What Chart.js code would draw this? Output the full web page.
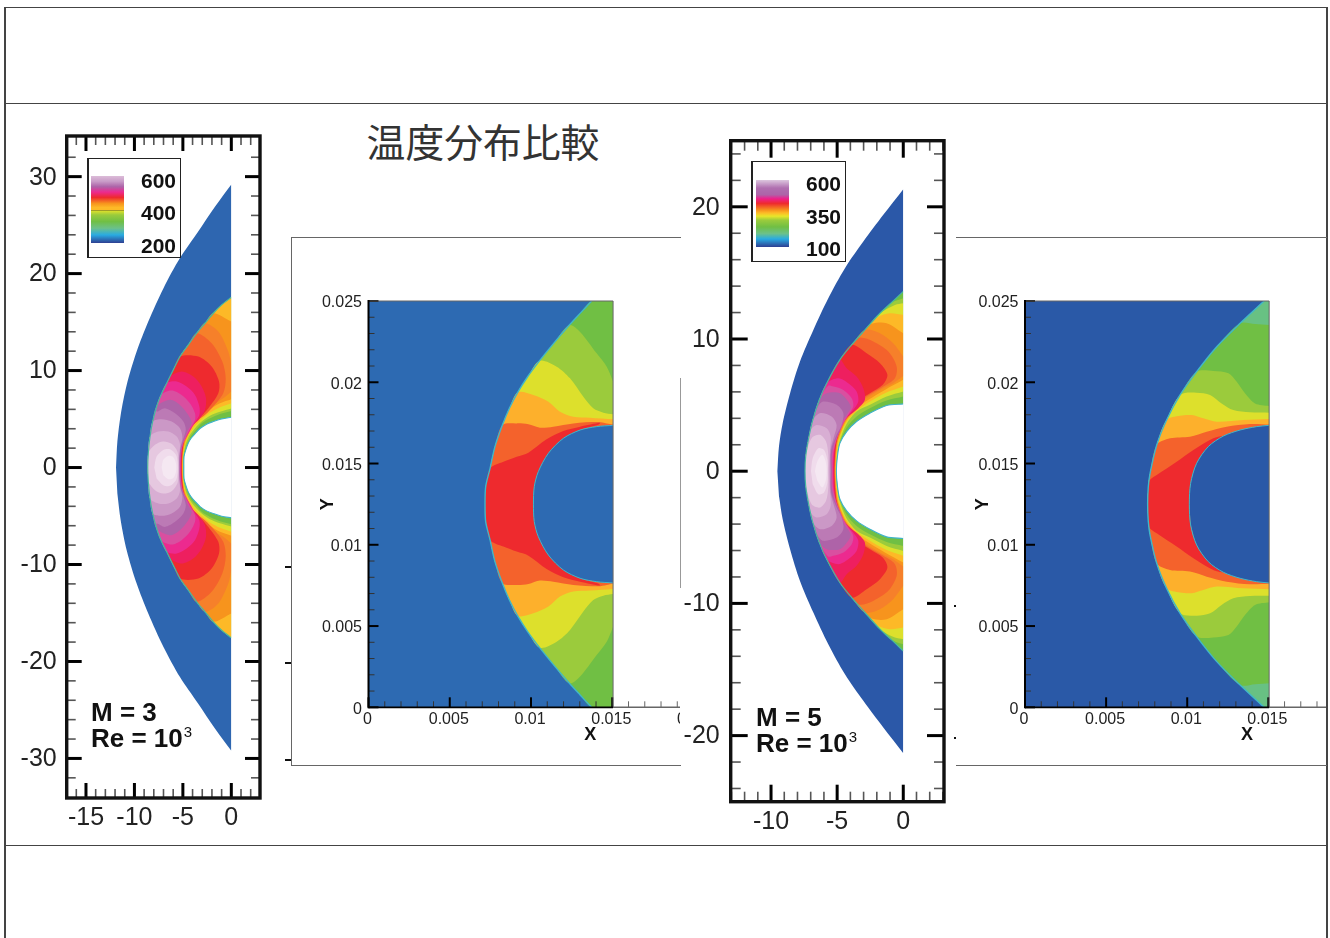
<!DOCTYPE html>
<html lang="ja">
<head>
<meta charset="utf-8">
<title>温度分布比較</title>
<script src="https://cdn.jsdelivr.net/npm/chart.js@4/dist/chart.umd.js"></script>
<style>
  html, body { margin: 0; padding: 0; background: #fff; overflow: hidden; }
  body { position: relative; width: 1330px; height: 938px; font-family: "Liberation Sans", Arial, sans-serif; }
  .rule { position: absolute; background: #444; }
  .clip { position: absolute; overflow: hidden; }
  canvas { position: absolute; }
  .t { position: absolute; transform: translateY(-50%); white-space: nowrap; color: #111; font-weight: bold; }
  .legendBox { position: absolute; box-sizing: border-box; border: 1.5px solid #222; border-left-width: 2px; background: transparent; }
  .bar { position: absolute; }
  #title { position: absolute; left: 483px; top: 140px; transform: translate(-50%, -50%); font: 400 38.8px "Noto Sans CJK JP"; color: #333; white-space: nowrap; }
  sup { font-size: 15px; font-weight: normal; position: relative; top: -10px; margin-left: 1px; line-height: 0; vertical-align: baseline; }
</style>
</head>
<body>
<!-- page frame -->
<div class="rule" style="left:4px;top:7px;width:2px;height:931px"></div>
<div class="rule" style="left:1326px;top:7px;width:2px;height:931px"></div>
<div class="rule" style="left:5px;top:7px;width:1322px;height:1.4px"></div>
<div class="rule" style="left:5px;top:102.5px;width:1322px;height:1.4px"></div>
<div class="rule" style="left:5px;top:844.5px;width:1322px;height:1.4px"></div>
<!-- boxes behind the close-up plots -->
<div class="rule" style="left:291px;top:237px;width:1px;height:529px;background:#666"></div>
<div class="rule" style="left:291px;top:237px;width:390px;height:1px;background:#666"></div>
<div class="rule" style="left:291px;top:765px;width:390px;height:1px;background:#666"></div>
<div class="rule" style="left:680px;top:378px;width:1px;height:210px;background:#999"></div>
<div class="rule" style="left:956px;top:237px;width:371px;height:1px;background:#666"></div>
<div class="rule" style="left:956px;top:765px;width:371px;height:1px;background:#666"></div>
<!-- stray tick ends left in the pasted figure -->
<div class="rule" style="left:285px;top:566px;width:6px;height:2px;background:#111"></div>
<div class="rule" style="left:285px;top:662px;width:6px;height:2px;background:#111"></div>
<div class="rule" style="left:285px;top:759px;width:6px;height:2px;background:#111"></div>
<div class="rule" style="left:954px;top:605px;width:2px;height:2px;background:#111"></div>
<div class="rule" style="left:954px;top:737px;width:2px;height:2px;background:#111"></div>

<div id="title">温度分布比較</div>

<canvas id="m3Full" width="265" height="718" style="left:10px;top:120px"></canvas>
<div class="clip" style="left:292px;top:250px;width:388px;height:510px"><canvas id="m3Zoom" width="520" height="478" style="left:0;top:20px"></canvas></div>
<canvas id="m5Full" width="275" height="718" style="left:680px;top:125px"></canvas>
<div class="clip" style="left:957px;top:250px;width:369px;height:510px"><canvas id="m5Zoom" width="512" height="478" style="left:0;top:20px"></canvas></div>

<!-- M = 3 legend and note -->
<div class="legendBox" style="left:87px;top:157.5px;width:94px;height:100px"></div>
<div class="bar" id="m3Bar" style="left:91px;top:176px;width:33px;height:67px"></div>
<div class="t" style="right:1154px;top:181px;font-size:21px">600</div>
<div class="t" style="right:1154px;top:213px;font-size:21px">400</div>
<div class="t" style="right:1154px;top:246px;font-size:21px">200</div>
<div class="t" style="left:91px;top:712px;font-size:26px">M = 3</div>
<div class="t" style="left:91px;top:738px;font-size:26px">Re = 10<sup>3</sup></div>

<!-- M = 5 legend and note -->
<div class="legendBox" style="left:751px;top:160.5px;width:95px;height:101px"></div>
<div class="bar" id="m5Bar" style="left:756px;top:180px;width:33px;height:67px"></div>
<div class="t" style="right:489px;top:184px;font-size:21px">600</div>
<div class="t" style="right:489px;top:217px;font-size:21px">350</div>
<div class="t" style="right:489px;top:249px;font-size:21px">100</div>
<div class="t" style="left:756px;top:717px;font-size:26px">M = 5</div>
<div class="t" style="left:756px;top:743px;font-size:26px">Re = 10<sup>3</sup></div>

<script>
// ---- temperature colours, outermost band first
const fullColors = ['#70bf44', '#9bcb3c', '#dde02c', '#fdb927', '#f7941d', '#f6802a', '#f4622c', '#ee2a2e', '#ee1f5f',
  '#ec2a8f', '#d94fa0', '#ae63a8', '#bc7ab5', '#cb98c6', '#d8aed3', '#e6c8e0', '#f0dcec', '#f5e8f2'];
const zoomM3Colors = ['#70bf44', '#9bcb3c', '#dde02c', '#fdb02c', '#f4622c', '#ee2a2e'];
const zoomM5Colors = ['#68c183', '#70bf44', '#9bcb3c', '#dde02c', '#fdb02c', '#f4622c', '#ee2a2e'];

// ---- M = 3 whole field, upper half, mirrored about y = 0
const m3XMajor = [-15, -10, -5, 0];
const m3XMinor = [-16, -14, -13, -12, -11, -9, -8, -7, -6, -4, -3, -2, -1, 1, 2];
const m3YMajor = [-30, -20, -10, 0, 10, 20, 30];
const m3YMinor = [-32, -28, -26, -24, -22, -18, -16, -14, -12, -8, -6, -4, -2, 2, 4, 6, 8, 12, 14, 16, 18, 22, 24, 26, 28, 32];
const m3Outer = [[-11.9, 0], [-11.76, 2.68], [-11.42, 5.43], [-10.8, 8.52], [-9.77, 11.96], [-8.57, 15.05], [-7, 18.5], [-5.3, 21.6], [-3.45, 24.3], [-1.69, 26.9], [0, 29.2]];
const m3Rim = [[-8.63, 0], [-8.57, 1.48], [-8.39, 3.2], [-8.12, 4.74], [-7.71, 6.29], [-7.26, 7.49], [-6.67, 8.69], [-5.99, 10.07],
  [-5.3, 11.44], [-4.44, 12.65], [-3.58, 13.85], [-2.72, 14.88], [-1.86, 15.91], [-1, 16.77], [0, 17.56]];
const m3Hole = [[-4.9, 0], [-4.88, 1.13], [-4.7, 1.82], [-4.45, 2.51], [-4.15, 3.02], [-3.7, 3.54], [-3.2, 4.05], [-2.55, 4.47], [-1.86, 4.74], [-1, 5.02], [0, 5.19]];
const m3Mask = [[0, 0], [0, 34.19], [2.96, 34.19], [2.96, 0]];
// how many rim points each band follows before it turns inside
const m3Reach = [15, 15, 15, 15, 13, 12, 11, 9, 7, 7, 6, 5, 5, 4, 3, 2, 0, 0];
const m3Tails = [
  [[0, 5.19], [-1, 5.02], [-1.86, 4.74], [-2.55, 4.47], [-3.2, 4.05], [-3.7, 3.54], [-4.15, 3.02], [-4.45, 2.51], [-4.7, 1.82], [-4.88, 1.13], [-4.9, 0]],
  [[0, 5.84], [-1.17, 5.53], [-2.2, 5.09], [-3.06, 4.57], [-3.58, 3.95], [-4.16, 3.26], [-4.55, 2.44], [-4.78, 1.75], [-4.93, 1.07], [-4.95, 0]],
  [[0, 6.08], [-1.17, 5.74], [-2.2, 5.33], [-3.06, 4.74], [-3.75, 4.05], [-4.3, 3.32], [-4.65, 2.6], [-4.85, 1.82], [-4.97, 0.96], [-4.98, 0]],
  [[0, 6.63], [-1.17, 6.22], [-2.2, 5.67], [-3.06, 4.98], [-3.75, 4.3], [-4.35, 3.37], [-4.7, 2.58], [-4.9, 1.82], [-5, 0.96], [-5.02, 0]],
  [[0, 15.05], [0, 7.04], [-1.17, 6.63], [-2.2, 6.01], [-2.96, 5.26], [-3.8, 4.5], [-4.4, 3.54], [-4.75, 2.68], [-4.95, 1.82], [-5.03, 0.96], [-5.05, 0]],
  [[-1.34, 14.02], [-0.31, 11.96], [0, 10.58], [0, 7.84], [-0.83, 7.15], [-1.86, 6.46], [-2.82, 5.43], [-3.85, 4.64], [-4.45, 3.71], [-4.8, 2.78], [-4.98, 1.82], [-5.06, 0.96], [-5.08, 0]],
  [[-2.03, 12.82], [-0.93, 10.93], [-0.58, 9.21], [-0.83, 7.66], [-2.03, 6.12], [-2.9, 5.3], [-3.9, 4.74], [-4.5, 3.71], [-4.83, 2.78], [-5, 1.82], [-5.08, 0.96], [-5.1, 0]],
  [[-3.4, 11.44], [-2.03, 10.41], [-1.27, 8.87], [-1.34, 7.66], [-2.37, 6.12], [-3.2, 5.2], [-3.95, 4.55], [-4.55, 3.71], [-4.87, 2.85], [-5.03, 1.82], [-5.1, 0.96], [-5.12, 0]],
  [[-6.33, 9.38], [-5.13, 9.9], [-3.92, 9.38], [-3.06, 8.35], [-2.61, 7.15], [-2.72, 5.95], [-3.23, 5.09], [-4.1, 4.2], [-4.6, 3.3], [-4.92, 2.7], [-5.08, 1.82], [-5.14, 0.96], [-5.16, 0]],
  [[-5.64, 8.87], [-4.61, 8.35], [-3.75, 7.49], [-3.3, 6.29], [-3.3, 5.43], [-3.8, 4.6], [-4.65, 3.1], [-4.97, 2.5], [-5.12, 1.82], [-5.19, 0.96], [-5.2, 0]],
  [[-6.16, 7.94], [-5.13, 7.49], [-4.27, 6.63], [-3.75, 5.6], [-3.75, 4.9], [-4.2, 4.1], [-4.75, 3], [-5.05, 2.2], [-5.2, 1.2], [-5.25, 0]],
  [[-6.33, 6.98], [-5.3, 6.46], [-4.44, 5.43], [-4.09, 4.57], [-4.5, 3.8], [-4.9, 2.8], [-5.15, 2], [-5.28, 1], [-5.3, 0]],
  [[-7.71, 5.77], [-6.85, 6.12], [-5.81, 5.6], [-4.95, 4.74], [-4.7, 3.9], [-5, 2.8], [-5.25, 1.9], [-5.33, 0]],
  [[-7.19, 4.98], [-6.16, 4.74], [-5.3, 4.05], [-5.05, 3.1], [-5.25, 2.1], [-5.38, 1], [-5.38, 0]],
  [[-7.53, 3.71], [-6.5, 3.71], [-5.64, 3.2], [-5.3, 2.4], [-5.4, 1.2], [-5.42, 0]],
  [[-7.88, 2.34], [-7.02, 2.68], [-6.16, 2.44], [-5.57, 1.65], [-5.47, 0.79], [-5.45, 0]],
  [[-7.95, 0], [-7.71, 1.13], [-7.02, 1.82], [-6.33, 1.89], [-5.71, 1.31], [-5.55, 0.62], [-5.52, 0]],
  [[-7.19, 0], [-7.02, 0.79], [-6.5, 1.2], [-5.99, 1.07], [-5.71, 0.45], [-5.68, 0]],
];

// ---- M = 5 whole field
const m5XMajor = [-10, -5, 0];
const m5XMinor = [-13, -12, -11, -9, -8, -7, -6, -4, -3, -2, -1, 1, 2, 3];
const m5YMajor = [-20, -10, 0, 10, 20];
const m5YMinor = [-24, -22, -18, -16, -14, -12, -8, -6, -4, -2, 2, 4, 6, 8, 12, 14, 16, 18, 22, 24];
const m5Outer = [[-9.52, 0], [-9.4, 1.87], [-9.12, 3.63], [-8.56, 5.9], [-7.81, 8.3], [-6.8, 10.69], [-5.67, 13.09], [-4.41, 15.36], [-3.02, 17.37], [-1.51, 19.39], [0, 21.33]];
const m5Rim = [[-7.43, 0], [-7.38, 1.11], [-7.18, 2.37], [-6.85, 3.85], [-6.35, 5.4], [-5.79, 6.66], [-4.8, 8.42], [-3.9, 9.56], [-2.9, 10.69], [-1.76, 11.95], [-0.88, 12.76], [0, 13.6]];
const m5Hole = [[-5.06, 0], [-4.98, 1.11], [-4.79, 2.12], [-4.28, 3], [-3.53, 3.76], [-2.52, 4.39], [-1.26, 4.97], [0, 5.09]];
const m5Mask = [[0, 0], [0, 25], [3.08, 25], [3.08, 0]];
const m5Reach = [12, 11, 10, 9, 9, 9, 8, 8, 7, 6, 5, 5, 4, 4, 3, 2, 0, 0];
const m5Tails = [
  [[0, 5.09], [-1.26, 4.97], [-2.52, 4.39], [-3.53, 3.76], [-4.28, 3], [-4.79, 2.12], [-4.98, 1.11], [-5.06, 0]],
  [[0, 13.09], [0, 5.65], [-1.26, 5.35], [-2.52, 4.77], [-3.53, 4.14], [-4.28, 3.3], [-4.76, 2.24], [-4.96, 1.24], [-5.06, 0]],
  [[-0.63, 12.58], [0, 12.71], [0, 6.03], [-1.26, 5.65], [-2.52, 5.02], [-3.53, 4.51], [-4.33, 3.5], [-4.82, 2.24], [-5, 1.24], [-5.09, 0]],
  [[-1.95, 11.65], [-1.01, 11.95], [0, 11.83], [0, 6.4], [-1.39, 5.9], [-2.52, 5.27], [-3.53, 4.56], [-4.36, 3.63], [-4.87, 2.37], [-5.04, 1.24], [-5.11, 0]],
  [[-2.4, 11.15], [-1.26, 11.2], [0, 10.44], [0, 6.91], [-1.39, 6.15], [-2.64, 5.4], [-3.58, 4.69], [-4.36, 3.75], [-4.92, 2.37], [-5.09, 1.24], [-5.14, 0]],
  [[-1.76, 10.44], [-0.76, 9.68], [0, 8.67], [0, 7.21], [-0.76, 6.66], [-1.51, 6.28], [-2.77, 5.52], [-3.65, 4.77], [-4.41, 3.83], [-4.97, 2.37], [-5.11, 1.24], [-5.16, 0]],
  [[-3.3, 10.1], [-2.27, 9.81], [-1.13, 9.05], [-0.5, 7.92], [-0.63, 7.03], [-1.51, 6.4], [-2.77, 5.65], [-3.73, 4.84], [-4.46, 3.88], [-5, 2.37], [-5.14, 1.24], [-5.19, 0]],
  [[-2.77, 8.93], [-1.76, 8.17], [-1.2, 7.29], [-1.55, 6.53], [-2.52, 5.9], [-3.53, 5.27], [-4.28, 4.39], [-4.66, 3.5], [-5.02, 2.37], [-5.16, 1.24], [-5.21, 0]],
  [[-4.28, 7.79], [-3.53, 7.16], [-3.02, 6.28], [-2.9, 5.4], [-3.4, 4.77], [-4.16, 4.14], [-4.71, 3.38], [-5.05, 2.37], [-5.19, 1.24], [-5.24, 0]],
  [[-4.91, 7.03], [-4.16, 6.66], [-3.53, 6.03], [-3.4, 5.27], [-3.78, 4.64], [-4.33, 4.01], [-4.76, 3.13], [-5.1, 2.3], [-5.24, 1.24], [-5.29, 0]],
  [[-5.7, 6.45], [-5.29, 6.4], [-4.53, 6.15], [-3.9, 5.52], [-3.78, 4.89], [-4.16, 4.26], [-4.53, 3.63], [-4.9, 2.75], [-5.15, 2], [-5.31, 1.24], [-5.34, 0]],
  [[-5.79, 5.9], [-4.79, 5.9], [-4.16, 5.27], [-3.98, 4.77], [-4.53, 3.88], [-4.79, 3.13], [-5.15, 2.3], [-5.4, 1.24], [-5.4, 0]],
  [[-6.45, 4.9], [-6.05, 5.27], [-5.04, 5.02], [-4.53, 4.39], [-4.66, 3.5], [-5.04, 2.75], [-5.45, 1.61], [-5.47, 0]],
  [[-6.3, 4.39], [-5.42, 4.14], [-5.04, 3.5], [-5.24, 2.62], [-5.5, 1.61], [-5.52, 0]],
  [[-6.95, 3.2], [-6.55, 3.5], [-5.79, 3.25], [-5.49, 2.62], [-5.54, 1.61], [-5.59, 0]],
  [[-6.93, 2.5], [-6.3, 2.75], [-5.84, 2.24], [-5.67, 1.24], [-5.67, 0]],
  [[-6.98, 0], [-6.85, 0.98], [-6.42, 1.74], [-5.99, 1.61], [-5.74, 0.86], [-5.72, 0]],
  [[-6.68, 0], [-6.5, 0.73], [-6.12, 1.24], [-5.87, 0.73], [-5.79, 0]],
];

// ---- close-ups, upper half, mirrored about y = 0.0125
const zoomXMajor = [0, 0.005, 0.01, 0.015, 0.02];
const zoomXMinor = [0.001, 0.002, 0.003, 0.004, 0.006, 0.007, 0.008, 0.009, 0.011, 0.012, 0.013, 0.014, 0.016, 0.017, 0.018, 0.019, 0.021, 0.022, 0.023, 0.024];
const zoomYMajor = [0, 0.005, 0.01, 0.015, 0.02, 0.025];
const zoomYMinor = [0.001, 0.002, 0.003, 0.004, 0.006, 0.007, 0.008, 0.009, 0.011, 0.012, 0.013, 0.014, 0.016, 0.017, 0.018, 0.019, 0.021, 0.022, 0.023, 0.024];
const zoomBackground = [[0, 0.0125], [0, 0.025], [0.01505, 0.025], [0.01505, 0.0125]];
const zoomMask = [[0.01505, 0.0125], [0.01505, 0.025], [0.0274, 0.025], [0.0274, 0.0125]];

const zoomM3Rim = [[0.00717, 0.0125], [0.00721, 0.01357], [0.00748, 0.0147], [0.00778, 0.01604], [0.00824, 0.01737], [0.00867, 0.0184], [0.00918, 0.01938],
  [0.00979, 0.02034], [0.01053, 0.02133], [0.01148, 0.0225], [0.01236, 0.02352], [0.01302, 0.02424], [0.01373, 0.025]];
const zoomM3Hole = [[0.01015, 0.0125], [0.0102, 0.01357], [0.01045, 0.0145], [0.01107, 0.01563], [0.01199, 0.01655], [0.01302, 0.01706], [0.01404, 0.01727], [0.01505, 0.01735]];
const zoomM3Reach = [13, 11, 9, 7, 5, 3];
const zoomM3Tails = [
  [[0.01505, 0.025], [0.01505, 0.0125]],
  [[0.01302, 0.0231], [0.01404, 0.02178], [0.01466, 0.02096], [0.01505, 0.02004], [0.01505, 0.0125]],
  [[0.01158, 0.02096], [0.0124, 0.02024], [0.01322, 0.01911], [0.01383, 0.0184], [0.01445, 0.01813], [0.01505, 0.01803], [0.01505, 0.0125]],
  [[0.01014, 0.01922], [0.01107, 0.0188], [0.01178, 0.01819], [0.0126, 0.01788], [0.01363, 0.01782], [0.01505, 0.01772], [0.01505, 0.0125]],
  [[0.00912, 0.01747], [0.00984, 0.01741], [0.01055, 0.0172], [0.01137, 0.01727], [0.0126, 0.01747], [0.01414, 0.01755], [0.01466, 0.01747], [0.01505, 0.0174], [0.01505, 0.0125]],
  [[0.0083, 0.01511], [0.00912, 0.01542], [0.00984, 0.01567], [0.01096, 0.01649], [0.01199, 0.017], [0.01302, 0.01727], [0.01425, 0.01751], [0.01414, 0.01739], [0.01322, 0.01714], [0.0126, 0.01686], [0.01076, 0.01501], [0.01014, 0.0125]],
];

const zoomM5Rim = [[0.00756, 0.0125], [0.0076, 0.01357], [0.00771, 0.0144], [0.00812, 0.01614], [0.00873, 0.01768], [0.00956, 0.01922], [0.01058, 0.02065], [0.01182, 0.02219], [0.01326, 0.02363], [0.01474, 0.025], [0.01506, 0.025]];
const zoomM5Hole = [[0.01013, 0.0125], [0.01021, 0.01378], [0.01058, 0.01501], [0.0113, 0.01604], [0.01223, 0.01669], [0.01326, 0.01706], [0.01428, 0.01727], [0.01506, 0.01735]];
const zoomM5Reach = [11, 9, 7, 6, 5, 4, 2];
const zoomM5Tails = [
  [[0.01506, 0.0125]],
  [[0.01418, 0.02358], [0.01506, 0.02352], [0.01506, 0.0125]],
  [[0.01161, 0.0207], [0.01254, 0.02055], [0.01305, 0.02003], [0.01356, 0.01932], [0.01418, 0.0187], [0.01506, 0.01854], [0.01506, 0.0125]],
  [[0.01058, 0.01936], [0.01141, 0.01922], [0.01212, 0.0187], [0.01284, 0.01829], [0.01387, 0.01815], [0.01506, 0.01813], [0.01506, 0.0125]],
  [[0.00956, 0.01794], [0.01028, 0.01798], [0.01099, 0.01778], [0.01182, 0.01757], [0.01346, 0.01768], [0.01506, 0.01774], [0.01506, 0.0125]],
  [[0.00894, 0.01655], [0.01017, 0.01665], [0.0112, 0.01696], [0.01243, 0.01727], [0.01387, 0.01743], [0.01506, 0.0174], [0.01506, 0.0125]],
  [[0.00771, 0.014], [0.00812, 0.01429], [0.00935, 0.01511], [0.01038, 0.01583], [0.01161, 0.01655], [0.01219, 0.01669], [0.01161, 0.01624], [0.01079, 0.01542], [0.01028, 0.01419], [0.01013, 0.0125]],
];

// ---- legend colour bars, top to bottom
const m3LegendStops = [0, 8, 16, 24, 32, 41, 47, 50, 51, 52, 58, 68, 78, 88, 100];
const m3LegendColors = ['#dcbcd8', '#c99cc8', '#ad64a8', '#ec2a8f', '#ee2a2e', '#f7941d', '#fdb927', '#fdb927', '#6b5a1e', '#dde02c', '#9bcb3c', '#70bf44', '#6cc18a', '#29abe2', '#2e3f92'];
const m5LegendStops = [0, 12, 22, 28, 35, 45, 49, 54, 60, 70, 80, 88, 100];
const m5LegendColors = ['#dcc6de', '#b06fb0', '#ad64a8', '#ee1f8b', '#ee2a2e', '#f7941d', '#fdb927', '#e8e62a', '#9bcb3c', '#70bf44', '#6cc18a', '#29abe2', '#2e3f92'];

const gradient = (stops, colors) => 'linear-gradient(to bottom,' + colors.map((c, i) => c + ' ' + stops[i] + '%').join(',') + ')';
document.getElementById('m3Bar').style.background = gradient(m3LegendStops, m3LegendColors);
document.getElementById('m5Bar').style.background = gradient(m5LegendStops, m5LegendColors);

const CURVE = 0.3;
const flip = (half, yc) => half.slice().reverse().filter(([, y]) => y !== yc).map(([x, y]) => [x, 2 * yc - y]);
const toPoints = pts => pts.map(([x, y]) => ({ x, y }));
// a doubled point keeps the spline from rounding the corner on the straight cut edge
const sharpen = pts => pts.flatMap(p => (p[0] === 0 || p[0] === 0.01505 || p[0] === 0.01506) ? [p, p] : [p]);

// upper half + its mirror image, as one closed outline
function shape(half, yc, color, tension = CURVE) {
  return { data: toPoints(sharpen(half.concat(flip(half, yc)))), backgroundColor: color, borderWidth: 0, fill: 'shape', pointRadius: 0, showLine: true, tension };
}
// open line along the shock or the body wall
function edge(half, yc, color, width) {
  return { data: toPoints(flip(half, yc).concat(half)), borderColor: color, borderWidth: width, fill: false, pointRadius: 0, showLine: true, tension: CURVE };
}
function bands(rim, reach, tails, colors, yc) {
  return tails.map((tail, i) => shape(rim.slice(0, reach[i]).concat(tail), yc, colors[i]));
}
// first in the list is painted first
const stacked = list => list.map((d, i) => Object.assign(d, { order: list.length - i }));

// inward tick marks and axis lines
const axisMarks = {
  id: 'axisMarks',
  afterDatasetsDraw(chart, args, o) {
    const { ctx, chartArea: a, scales: { x, y } } = chart;
    const line = (x1, y1, x2, y2, w, c) => {
      ctx.lineWidth = w; ctx.strokeStyle = c;
      ctx.beginPath(); ctx.moveTo(x1, y1); ctx.lineTo(x2, y2); ctx.stroke();
    };
    ctx.save();
    const ticks = (values, len, w, c) => {
      values.x.forEach(v => {
        const p = x.getPixelForValue(v);
        const col = o.fadeFrom !== undefined && v > o.fadeFrom ? '#666' : c;
        line(p, a.bottom, p, a.bottom - len, w, col);
        if (o.box) line(p, a.top, p, a.top + len, w, col);
      });
      values.y.forEach(v => {
        const p = y.getPixelForValue(v);
        line(a.left, p, a.left + len, p, w, c);
        if (o.box) line(a.right, p, a.right - len, p, w, c);
      });
    };
    ticks({ x: o.xMinor, y: o.yMinor }, o.minorLen, o.minorWidth, o.minorColor);
    ticks({ x: o.xMajor, y: o.yMajor }, o.majorLen, o.majorWidth, '#000');
    if (o.box) {
      ctx.lineWidth = o.frameWidth; ctx.strokeStyle = '#111';
      ctx.strokeRect(a.left, a.top, a.right - a.left, a.bottom - a.top);
    } else {
      const right = x.getPixelForValue(o.fadeFrom), top = y.getPixelForValue(0.025);
      line(a.left, top, right, top, 1, '#666');
      line(right, top, right, a.bottom, 1, '#666');
      line(right, a.bottom, a.right, a.bottom, 1.6, '#666');
      line(a.left, a.bottom, right, a.bottom, 1.8, '#000');
      line(a.left, a.top - 1, a.left, a.bottom + 1, 2, '#000');
    }
    ctx.restore();
  }
};

function makeChart(id, datasets, cfg) {
  const tickStyle = (size, padding, labelOffset) => ({
    color: '#222', padding, labelOffset, autoSkip: false, maxRotation: 0, minRotation: 0,
    font: { family: '"Liberation Sans"', size },
    callback: v => String(v),
  });
  const noAutoPad = s => { s.paddingTop = s.paddingBottom = s.paddingLeft = s.paddingRight = 0; };
  return new Chart(document.getElementById(id), {
    type: 'scatter',
    data: { datasets: stacked(datasets) },
    plugins: [axisMarks],
    options: {
      responsive: false,
      animation: false,
      devicePixelRatio: 1,
      layout: { padding: cfg.padding },
      events: [],
      plugins: { legend: { display: false }, tooltip: { enabled: false }, axisMarks: cfg.marks },
      scales: {
        x: {
          type: 'linear', min: cfg.xRange[0], max: cfg.xRange[1],
          grid: { display: false, drawTicks: false }, border: { display: false },
          ticks: tickStyle(cfg.fontSize, cfg.xPad, cfg.xNudge),
          title: cfg.xTitle,
          afterBuildTicks: s => { s.ticks = cfg.marks.xMajor.map(value => ({ value })); },
          afterFit: s => { s.height = cfg.xHeight; noAutoPad(s); },
        },
        y: {
          type: 'linear', min: cfg.yRange[0], max: cfg.yRange[1],
          grid: { display: false, drawTicks: false }, border: { display: false },
          ticks: tickStyle(cfg.fontSize, cfg.yPad, cfg.yNudge),
          title: cfg.yTitle,
          afterBuildTicks: s => { s.ticks = cfg.marks.yMajor.map(value => ({ value })); },
          afterFit: s => { s.width = cfg.yWidth; noAutoPad(s); },
        },
      },
    },
  });
}

const fullMarks = (xMajor, xMinor, yMajor, yMinor, majorLen, minorLen) => ({
  box: true, frameWidth: 3.4, xMajor, xMinor, yMajor, yMinor, majorLen, minorLen, majorWidth: 3, minorWidth: 1.6, minorColor: '#555',
});
const zoomMarks = () => ({
  box: false, fadeFrom: 0.01505, xMajor: zoomXMajor, xMinor: zoomXMinor, yMajor: zoomYMajor, yMinor: zoomYMinor,
  majorLen: 10, minorLen: 6, majorWidth: 2, minorWidth: 1, minorColor: '#333',
});
const axisTitle = (text, padding) => ({ display: true, text, color: '#111', font: { family: '"Liberation Sans"', size: 18, weight: 'bold' }, padding });

makeChart('m3Full', [
  shape(m3Outer, 0, '#2e66b0'),
  ...bands(m3Rim, m3Reach, m3Tails, fullColors, 0),
  edge(m3Rim, 0, '#45b8a0', 1.2),
  shape(m3Hole, 0, '#ffffff'),
  edge(m3Hole, 0, '#3fb4c8', 1.1),
  shape(m3Mask, 0, '#ffffff', 0),
], {
  marks: fullMarks(m3XMajor, m3XMinor, m3YMajor, m3YMinor, 15, 9),
  xRange: [-16.99, 2.96], yRange: [-34.08, 34.19],
  yWidth: 56.7, xHeight: 40, padding: { top: 16, right: 15 }, fontSize: 25, xPad: 5, yPad: 10, xNudge: 0, yNudge: 1,
});

makeChart('m5Full', [
  shape(m5Outer, 0, '#2b58a8'),
  ...bands(m5Rim, m5Reach, m5Tails, fullColors, 0),
  edge(m5Rim, 0, '#45b8a0', 1.2),
  shape(m5Hole, 0, '#ffffff'),
  edge(m5Hole, 0, '#3fb4c8', 1.1),
  shape(m5Mask, 0, '#ffffff', 0),
], {
  marks: fullMarks(m5XMajor, m5XMinor, m5YMajor, m5YMinor, 17, 10),
  xRange: [-13.05, 3.08], yRange: [-25, 25],
  yWidth: 50.7, xHeight: 41.3, padding: { top: 15.7, right: 11 }, fontSize: 25, xPad: 5, yPad: 11, xNudge: 0, yNudge: 1,
});

makeChart('m3Zoom', [
  shape(zoomBackground, 0.0125, '#2d6ab2', 0),
  ...bands(zoomM3Rim, zoomM3Reach, zoomM3Tails, zoomM3Colors, 0.0125),
  edge(zoomM3Rim, 0.0125, '#3fb6c9', 1.4),
  shape(zoomM3Hole, 0.0125, '#2d6ab2'),
  edge(zoomM3Hole, 0.0125, '#3fb6c9', 1),
  shape(zoomMask, 0.0125, '#ffffff', 0),
], {
  marks: zoomMarks(),
  xRange: [0, 0.02729], yRange: [0, 0.025],
  yWidth: 76.5, xHeight: 40.7, padding: { top: 31, right: 0 }, fontSize: 16, xPad: 3, yPad: 6.5, xNudge: -1, yNudge: 2,
  xTitle: axisTitle('X', { top: 0, bottom: 2 }),
  yTitle: axisTitle('Y', { top: 25, bottom: 0 }),
});

makeChart('m5Zoom', [
  shape(zoomBackground, 0.0125, '#2a59a7', 0),
  ...bands(zoomM5Rim, zoomM5Reach, zoomM5Tails, zoomM5Colors, 0.0125),
  edge(zoomM5Rim.slice(0, 10), 0.0125, '#3fb6c9', 1.4),
  shape(zoomM5Hole, 0.0125, '#2a59a7'),
  edge(zoomM5Hole, 0.0125, '#3fb6c9', 1),
  shape(zoomMask, 0.0125, '#ffffff', 0),
], {
  marks: zoomMarks(),
  xRange: [0, 0.02737], yRange: [0, 0.025],
  yWidth: 68, xHeight: 40.7, padding: { top: 31, right: 0 }, fontSize: 16, xPad: 3, yPad: 6.5, xNudge: -1, yNudge: 2,
  xTitle: axisTitle('X', { top: 0, bottom: 2 }),
  yTitle: axisTitle('Y', { top: 15, bottom: 0 }),
});
</script>
</body>
</html>
